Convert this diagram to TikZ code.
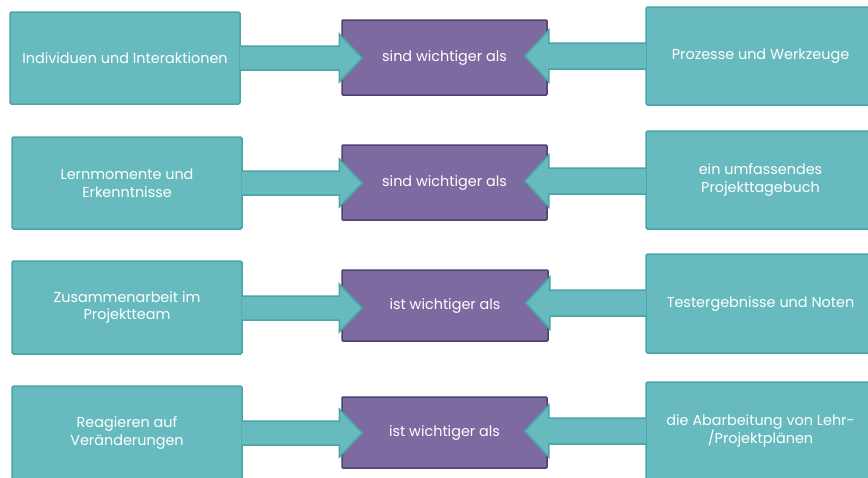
\documentclass[tikz,border=0pt]{standalone}
\usepackage{fontspec}
\setmainfont{Poppins}
\usetikzlibrary{calc}

\definecolor{tealfill}{HTML}{67BBBF}
\definecolor{tealline}{HTML}{48A5A8}
\definecolor{violetfill}{HTML}{7D6AA0}
\definecolor{violetline}{HTML}{4E4270}

\tikzset{
  valuebox/.style={draw=tealline, fill=tealfill, line width=1.5pt, rounded corners=1.5pt,
    text=white, align=center, font=\fontsize{14.4}{17.5}\selectfont, inner sep=0pt},
  comparebox/.style={draw=violetline, fill=violetfill, line width=1.5pt, rounded corners=1pt,
    text=white, align=center, font=\fontsize{14.4}{17.5}\selectfont, inner sep=0pt},
  arrowshape/.style={draw=tealline, fill=tealfill, line width=1.5pt, line join=miter},
}

% block arrow from the east side of #1 into the west side of #2, centred at y=#3
\newcommand\pushright[3]{%
  \filldraw[arrowshape]
    ($(#1.east |- 0,#3-12)+(-0.9,0)$) --
    ($(#2.west |- 0,#3-12)+(-2,0)$) --
    ($(#2.west |- 0,#3-24)+(-2,0)$) --
    ($(#2.west |- 0,#3)+(21,0)$) --
    ($(#2.west |- 0,#3+24)+(-2,0)$) --
    ($(#2.west |- 0,#3+12)+(-2,0)$) --
    ($(#1.east |- 0,#3+12)+(-0.9,0)$);}
% block arrow from the west side of #1 into the east side of #2, centred at y=#3
\newcommand\pushleft[3]{%
  \filldraw[arrowshape]
    ($(#1.west |- 0,#3-13)+(0.9,0)$) --
    ($(#2.east |- 0,#3-13)+(1,0)$) --
    ($(#2.east |- 0,#3-26)+(1,0)$) --
    ($(#2.east |- 0,#3)+(-23,0)$) --
    ($(#2.east |- 0,#3+26)+(1,0)$) --
    ($(#2.east |- 0,#3+13)+(1,0)$) --
    ($(#1.west |- 0,#3+13)+(0.9,0)$);}

\begin{document}
\begin{tikzpicture}[x=1pt, y=-1pt]
\useasboundingbox (0,0) rectangle (868,477);

% row 1
\node[valuebox, minimum width=230pt, minimum height=92pt] (l1) at (125,58) {Individuen und Interaktionen};
\node[comparebox, minimum width=205pt, minimum height=75pt] (m1) at (444.5,57.5) {sind wichtiger als};
\node[valuebox, minimum width=229pt, minimum height=98pt] (r1) at (760.5,56) {Prozesse und Werkzeuge};

% row 2
\node[valuebox, minimum width=230pt, minimum height=92pt] (l2) at (127,183) {Lernmomente und\\Erkenntnisse};
\node[comparebox, minimum width=205pt, minimum height=75pt] (m2) at (444.5,182.5) {sind wichtiger als};
\node[valuebox, minimum width=229pt, minimum height=98pt] (r2) at (760.5,180) {ein umfassendes\\Projekttagebuch};

% row 3
\node[valuebox, minimum width=230pt, minimum height=93pt] (l3) at (127,307.5) {Zusammenarbeit im\\Projektteam};
\node[comparebox, minimum width=206pt, minimum height=71pt] (m3) at (445,305.5) {ist wichtiger als};
\node[valuebox, minimum width=229pt, minimum height=99pt] (r3) at (760.5,303.5) {Testergebnisse und Noten};

% row 4
\node[valuebox, minimum width=230pt, minimum height=94pt] (l4) at (127,433) {Reagieren auf\\Veränderungen};
\node[comparebox, minimum width=205pt, minimum height=71pt] (m4) at (444.5,432.5) {ist wichtiger als};
\node[valuebox, minimum width=229pt, minimum height=98pt] (r4) at (760.5,431) {die Abarbeitung von Lehr-\\/Projektplänen};

% block arrows
\pushright{l1}{m1}{58}
\pushleft{r1}{m1}{56}
\pushright{l2}{m2}{183}
\pushleft{r2}{m2}{181}
\pushright{l3}{m3}{308}
\pushleft{r3}{m3}{303}
\pushright{l4}{m4}{433}
\pushleft{r4}{m4}{431}
\end{tikzpicture}
\end{document}
